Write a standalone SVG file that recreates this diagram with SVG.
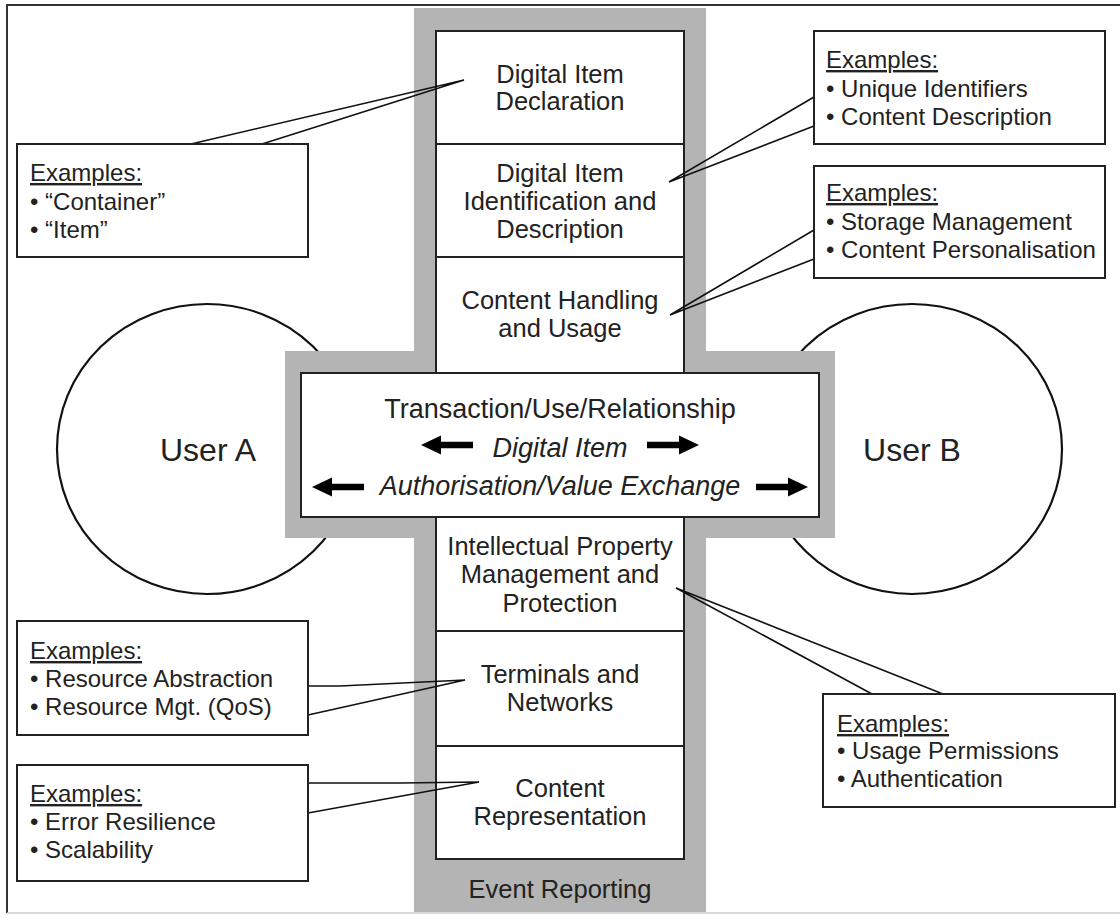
<svg xmlns="http://www.w3.org/2000/svg" width="1120" height="915" viewBox="0 0 1120 915">
<style>
.frame{fill:none;stroke:#333;stroke-width:2}
.user{fill:#fff;stroke:#111;stroke-width:2.2}
.band{fill:#b4b4b4;stroke:none}
.cell{fill:#fff;stroke:#222;stroke-width:2}
.ex{fill:#fff;stroke:#222;stroke-width:2}
.conn{fill:none;stroke:#111;stroke-width:1.6;stroke-linejoin:miter}
text{font-family:"Liberation Sans",Arial,sans-serif;fill:#222}
.st{font-size:25.5px;text-anchor:middle}
.ct{font-size:27px;text-anchor:middle}
.it{font-style:italic}
.bx{font-size:24px}
.ul{text-decoration:underline}
.ut{font-size:32px;text-anchor:middle}
.arr{fill:#000}
</style>
<defs>
<path id="arrowR" d="M0,-3.2 L32,-3.2 L32,-9.5 L52,0 L32,9.5 L32,3.2 L0,3.2 Z"/>
</defs>

<path class="frame" d="M1120,5 L7,5 L7,913"/>
<path d="M7,913 L1120,913" fill="none" stroke="#ccc" stroke-width="1.5"/>

<g id="user-a">
<ellipse class="user" cx="207" cy="449" rx="150" ry="145"/>
<text class="ut" x="208" y="461">User A</text>
</g>
<g id="user-b">
<ellipse class="user" cx="912" cy="449" rx="150" ry="145"/>
<text class="ut" x="912" y="461">User B</text>
</g>

<g id="event-reporting">
<rect class="band" x="414" y="8" width="292" height="904"/>
<rect class="band" x="285" y="351" width="550" height="187"/>
<text class="st" x="560" y="898">Event Reporting</text>
</g>

<g id="did">
<rect class="cell" x="436" y="31" width="248" height="113"/>
<text class="st" x="560" y="83">Digital Item</text>
<text class="st" x="560" y="110">Declaration</text>
</g>
<g id="diid">
<rect class="cell" x="436" y="144" width="248" height="113"/>
<text class="st" x="560" y="182">Digital Item</text>
<text class="st" x="560" y="210">Identification and</text>
<text class="st" x="560" y="238">Description</text>
</g>
<g id="content-handling">
<rect class="cell" x="436" y="257" width="248" height="116"/>
<text class="st" x="560" y="309">Content Handling</text>
<text class="st" x="560" y="337">and Usage</text>
</g>
<g id="transaction">
<rect class="cell" x="301" y="373" width="518" height="144"/>
<text class="ct" x="560" y="418">Transaction/Use/Relationship</text>
<text class="ct it" x="560" y="457">Digital Item</text>
<text class="ct it" x="560" y="495">Authorisation/Value Exchange</text>
<use href="#arrowR" class="arr" transform="translate(473,445) scale(-1,1)"/>
<use href="#arrowR" class="arr" transform="translate(647,445)"/>
<use href="#arrowR" class="arr" transform="translate(364,487) scale(-1,1)"/>
<use href="#arrowR" class="arr" transform="translate(756,487)"/>
</g>
<g id="ipmp">
<rect class="cell" x="436" y="517" width="248" height="114"/>
<text class="st" x="560" y="555">Intellectual Property</text>
<text class="st" x="560" y="583">Management and</text>
<text class="st" x="560" y="612">Protection</text>
</g>
<g id="terminals">
<rect class="cell" x="436" y="631" width="248" height="115"/>
<text class="st" x="560" y="683">Terminals and</text>
<text class="st" x="560" y="711">Networks</text>
</g>
<g id="content-representation">
<rect class="cell" x="436" y="746" width="248" height="113"/>
<text class="st" x="560" y="797">Content</text>
<text class="st" x="560" y="825">Representation</text>
</g>

<g id="connectors">
<path class="conn" d="M191,144 L464,80 L262,144"/>
<path class="conn" d="M814,97 L669,182 L814,126"/>
<path class="conn" d="M814,230 L670,315 L814,259"/>
<path class="conn" d="M872,694 L676,588 L943,694"/>
<path class="conn" d="M308,686 L340,686 L465,680 L308,715"/>
<path class="conn" d="M308,783 L400,783 L479,782 L308,813"/>
</g>

<g id="ex-did">
<rect class="ex" x="17" y="144" width="291" height="113"/>
<text class="bx" x="30" y="181"><tspan class="ul">Examples:</tspan></text>
<text class="bx" x="30" y="210">• “Container”</text>
<text class="bx" x="30" y="238">• “Item”</text>
</g>
<g id="ex-diid">
<rect class="ex" x="814" y="31" width="291" height="113"/>
<text class="bx" x="826" y="68"><tspan class="ul">Examples:</tspan></text>
<text class="bx" x="826" y="97">• Unique Identifiers</text>
<text class="bx" x="826" y="125">• Content Description</text>
</g>
<g id="ex-chu">
<rect class="ex" x="814" y="166" width="291" height="112"/>
<text class="bx" x="826" y="201"><tspan class="ul">Examples:</tspan></text>
<text class="bx" x="826" y="230">• Storage Management</text>
<text class="bx" x="826" y="258">• Content Personalisation</text>
</g>
<g id="ex-tn">
<rect class="ex" x="17" y="621" width="291" height="114"/>
<text class="bx" x="30" y="659"><tspan class="ul">Examples:</tspan></text>
<text class="bx" x="30" y="687">• Resource Abstraction</text>
<text class="bx" x="30" y="715">• Resource Mgt. (QoS)</text>
</g>
<g id="ex-cr">
<rect class="ex" x="17" y="765" width="291" height="116"/>
<text class="bx" x="30" y="802"><tspan class="ul">Examples:</tspan></text>
<text class="bx" x="30" y="830">• Error Resilience</text>
<text class="bx" x="30" y="858">• Scalability</text>
</g>
<g id="ex-ipmp">
<rect class="ex" x="823" y="694" width="292" height="113"/>
<text class="bx" x="837" y="732"><tspan class="ul">Examples:</tspan></text>
<text class="bx" x="837" y="759">• Usage Permissions</text>
<text class="bx" x="837" y="787">• Authentication</text>
</g>
</svg>
